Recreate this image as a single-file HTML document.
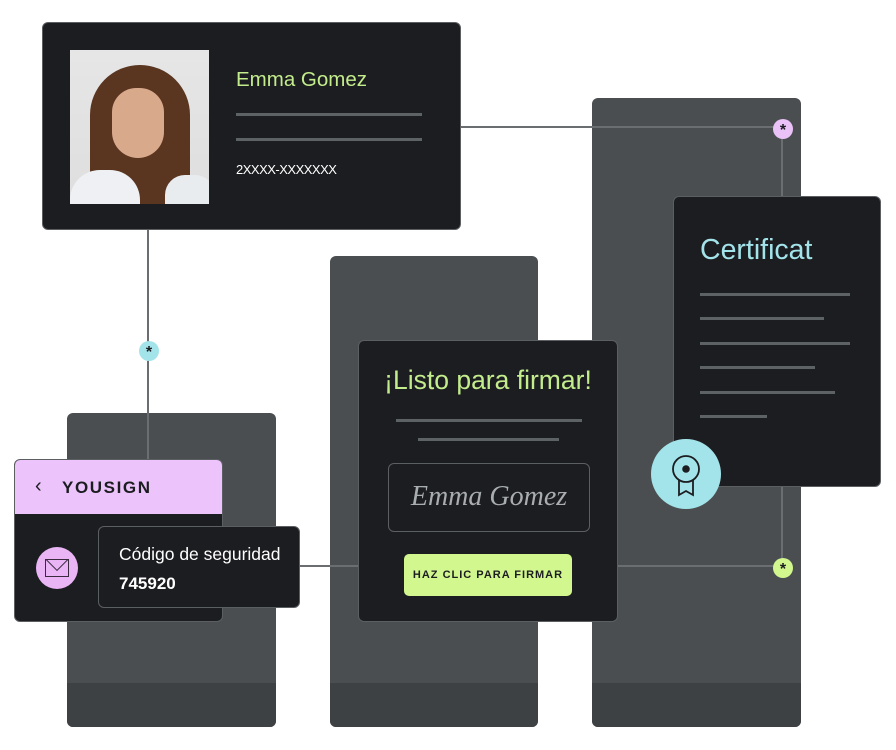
<!DOCTYPE html>
<html><head><meta charset="utf-8"><style>
*{margin:0;padding:0;box-sizing:border-box}
body{width:896px;height:750px;background:#fff;position:relative;overflow:hidden;font-family:"Liberation Sans",sans-serif}
.a{position:absolute}
.panel{background:#4a4e50;border-radius:6px;overflow:hidden}
.panel .band{position:absolute;left:0;right:0;bottom:0;height:44px;background:#3e4143}
.card{background:#1c1d20;border:1.5px solid #5b5f62;border-radius:6px}
.ln{position:absolute;height:3px;background:#5d6365}
.h{position:absolute;height:2px;background:#6a6e70}
.v{position:absolute;width:2px;background:#6a6e70}
.dot{position:absolute;width:20px;height:20px;border-radius:50%;text-align:center;font:bold 16px/24px "Liberation Sans",sans-serif;color:#1c1d20}
</style></head><body>
<div class="a panel" style="left:67px;top:413px;width:209px;height:314px"><div class="band"></div></div>
<div class="a panel" style="left:330px;top:256px;width:208px;height:471px"><div class="band"></div></div>
<div class="a panel" style="left:592px;top:98px;width:209px;height:629px"><div class="band"></div></div>

<div class="h" style="left:461px;top:126px;width:322px"></div>
<div class="v" style="left:781px;top:128px;height:440px"></div>
<div class="v" style="left:147px;top:230px;height:230px"></div>
<div class="h" style="left:300px;top:565px;width:60px"></div>
<div class="h" style="left:618px;top:565px;width:165px"></div>
<div class="dot" style="left:773px;top:119px;background:#ebc2f7">*</div>
<div class="dot" style="left:773px;top:558px;background:#d2f78e">*</div>
<div class="dot" style="left:139px;top:341px;background:#a3e4ea">*</div>

<div class="a card" style="left:42px;top:22px;width:419px;height:208px">
  <div class="a" style="left:27px;top:27px;width:139px;height:154px;background:linear-gradient(180deg,#e6e6e6 0%,#dedede 100%);overflow:hidden">
    <div class="a" style="left:20px;top:15px;width:100px;height:140px;border-radius:50px 50px 20px 20px;background:#5a3520"></div>
    <div class="a" style="left:42px;top:38px;width:52px;height:70px;border-radius:26px 26px 28px 28px;background:#d9a98c"></div>
    <div class="a" style="left:0px;top:120px;width:70px;height:40px;border-radius:30px 30px 0 0;background:#eef0f3"></div>
    <div class="a" style="left:95px;top:125px;width:50px;height:35px;border-radius:20px 20px 0 0;background:#e9ecef"></div>
  </div>
  <div class="a" style="left:193px;top:45px;color:#c3ec8c;font-size:20.5px">Emma Gomez</div>
  <div class="ln" style="left:193px;top:90px;width:186px"></div>
  <div class="ln" style="left:193px;top:115px;width:186px"></div>
  <div class="a" style="left:193px;top:139px;color:#fff;font-size:13px;letter-spacing:-0.5px">2XXXX-XXXXXXX</div>
</div>

<div class="a card" style="left:14px;top:459px;width:209px;height:163px;overflow:hidden">
  <div class="a" style="left:0;top:0;right:0;height:54px;background:#ecc4fb"></div>
  <div class="a" style="left:20px;top:15px;color:#1c1d20;font-size:20px">&#8249;</div>
  <div class="a" style="left:47px;top:18px;color:#1c1d20;font-size:17px;font-weight:bold;letter-spacing:1.6px">YOUSIGN</div>
  <div class="a" style="left:21px;top:87px;width:42px;height:42px;border-radius:50%;background:#e9b5f5">
    <div class="a" style="left:9px;top:12px;width:24px;height:18px;border:1.5px solid #3a2a3e;overflow:hidden">
      <div class="a" style="left:1px;top:-13px;width:20px;height:20px;border:1.5px solid #3a2a3e;transform:rotate(45deg)"></div>
    </div>
  </div>
</div>
<div class="a card" style="left:98px;top:526px;width:202px;height:82px">
  <div class="a" style="left:20px;top:17px;color:#fff;font-size:17.5px">Código de seguridad</div>
  <div class="a" style="left:20px;top:47px;color:#fff;font-size:17px;font-weight:bold">745920</div>
</div>

<div class="a card" style="left:358px;top:340px;width:260px;height:282px">
  <div class="a" style="left:0;right:0;top:24px;text-align:center;color:#c3ec8c;font-size:26.5px">¡Listo para firmar!</div>
  <div class="ln" style="left:37px;top:78px;width:186px"></div>
  <div class="ln" style="left:59px;top:97px;width:141px"></div>
  <div class="a" style="left:29px;top:122px;width:202px;height:69px;border:1.5px solid #5b5f62;border-radius:6px;color:#a9adaf;font:italic 28px/66px 'Liberation Serif',serif;text-align:center">Emma Gomez</div>
  <div class="a" style="left:45px;top:213px;width:168px;height:42px;background:#d2f78e;border-radius:5px;text-align:center;font:bold 11px/42px 'Liberation Sans',sans-serif;letter-spacing:1px;color:#1c1d20">HAZ CLIC PARA FIRMAR</div>
</div>

<div class="a card" style="left:673px;top:196px;width:208px;height:291px">
  <div class="a" style="left:26px;top:37px;color:#a3e4ea;font-size:28.5px">Certificat</div>
  <div class="ln" style="left:26px;top:96px;width:150px"></div>
  <div class="ln" style="left:26px;top:120px;width:124px"></div>
  <div class="ln" style="left:26px;top:145px;width:150px"></div>
  <div class="ln" style="left:26px;top:169px;width:115px"></div>
  <div class="ln" style="left:26px;top:194px;width:135px"></div>
  <div class="ln" style="left:26px;top:218px;width:67px"></div>
</div>
<div class="a" style="left:651px;top:439px;width:70px;height:70px;border-radius:50%;background:#a3e4ea">
  <svg width="70" height="70" viewBox="0 0 70 70"><path d="M28 40 V56 L35 52 L42 56 V40" fill="none" stroke="#1c1d20" stroke-width="1.8"/><circle cx="35" cy="30" r="13" fill="#a3e4ea" stroke="#1c1d20" stroke-width="1.8"/><circle cx="35" cy="30" r="3.8" fill="#1c1d20"/></svg>
</div>
</body></html>
